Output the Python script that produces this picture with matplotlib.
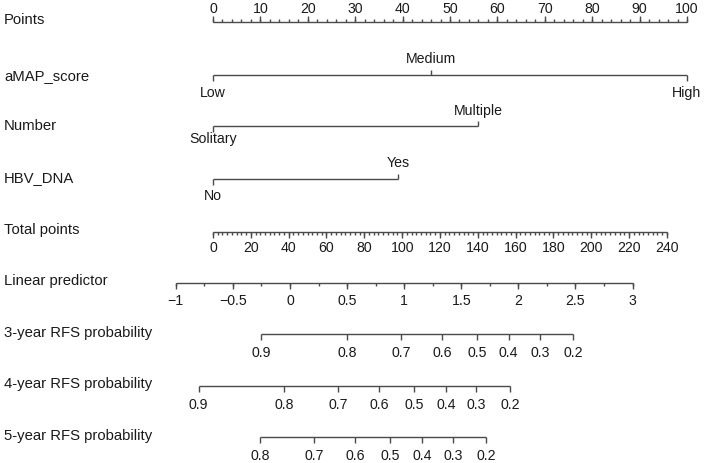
import numpy as np
import matplotlib
matplotlib.use("Agg")
import matplotlib.pyplot as plt

plt.rcParams['font.family'] = ['Liberation Sans', 'DejaVu Sans']

# ---------------- data ----------------
row_labels = ["Points", "aMAP_score", "Number", "HBV_DNA", "Total points",
              "Linear predictor", "3-year RFS probability",
              "4-year RFS probability", "5-year RFS probability"]

points_ticks = [0, 10, 20, 30, 40, 50, 60, 70, 80, 90, 100]
points_minor_step = 2

amap_levels = ["Low", "Medium", "High"]
amap_points = [0, 46, 100]
number_levels = ["Solitary", "Multiple"]
number_points = [0, 56]
hbv_levels = ["No", "Yes"]
hbv_points = [0, 39]

total_ticks = [0, 20, 40, 60, 80, 100, 120, 140, 160, 180, 200, 220, 240]
total_minor_step = 2.5

lp_ticks = [-1, -0.5, 0, 0.5, 1, 1.5, 2, 2.5, 3]
lp_tick_labels = ["\u22121", "\u22120.5", "0", "0.5", "1", "1.5", "2", "2.5", "3"]
lp_minor_step = 0.25

# model relation between total points and linear predictor
lp_at_total_zero = -0.674
lp_per_total_point = 0.01656
total_axis_scale = 0.399   # points-axis units per total point

prob_labels = ["0.9", "0.8", "0.7", "0.6", "0.5", "0.4", "0.3", "0.2"]
rfs3_lp = [-0.253, 0.503, 0.971, 1.333, 1.637, 1.914, 2.189, 2.481]
rfs4_lp = [-0.799, -0.051, 0.422, 0.778, 1.085, 1.365, 1.633, 1.926]
rfs5_labels = ["0.8", "0.7", "0.6", "0.5", "0.4", "0.3", "0.2"]
rfs5_lp = [-0.262, 0.209, 0.568, 0.877, 1.158, 1.427, 1.718]

# ---------------- layout / style ----------------
W, H = 720, 464
PX0, PXSCALE = 213.0, 4.74   # pixel of Points 0, pixels per point
LINE_C = '#4a4a4a'
TEXT_C = '#1a1a1a'
FS = 10.2
FS_LAB = 10.7
LW = 1.0

def px(p):
    return (p - PX0) / PXSCALE

def x_total(t):
    return np.asarray(t, dtype=float) * total_axis_scale

def x_lp(l):
    return (np.asarray(l, dtype=float) - lp_at_total_zero) / lp_per_total_point * total_axis_scale

fig = plt.figure(figsize=(W / 100, H / 100), dpi=100)
ax = fig.add_axes([0, 0, 1, 1])
ax.set_xlim(px(0), px(W))
ax.set_ylim(H, 0)
ax.axis('off')

row_y = [20, 76, 126, 178, 230, 281, 333, 384, 436]
for lab, y in zip(row_labels, row_y):
    ax.text(px(4), y, lab, ha='left', va='center', fontsize=FS_LAB, color=TEXT_C)

def hline(x0, x1, y):
    ax.plot([x0, x1], [y, y], color=LINE_C, lw=LW, solid_capstyle='butt')

def ticks(xs, y, length):
    ax.vlines(xs, y, y + length, color=LINE_C, lw=LW)

# Points axis (ticks up, labels above)
y = 23
hline(points_ticks[0], points_ticks[-1], y)
minor = np.arange(points_ticks[0], points_ticks[-1] + 0.001, points_minor_step)
ticks(minor, y, -3)
ticks(points_ticks, y, -6)
for t in points_ticks:
    ax.text(t, 9, str(t), ha='center', va='center', fontsize=FS, color=TEXT_C)

# categorical variables
def cat_axis(levels, pts, y, label_up, up_y, down_y):
    hline(min(pts), max(pts), y)
    for lev, p, up in zip(levels, pts, label_up):
        if up:
            ticks([p], y, -5.5)
            ax.text(p, up_y, lev, ha='center', va='center', fontsize=FS, color=TEXT_C)
        else:
            ticks([p], y, 5.5)
            ax.text(p, down_y, lev, ha='center', va='center', fontsize=FS, color=TEXT_C)

cat_axis(amap_levels, amap_points, 76, [False, True, False], 59, 93)
cat_axis(number_levels, number_points, 127, [False, True], 110.5, 139.5)
cat_axis(hbv_levels, hbv_points, 180, [False, True], 163, 196)

# Total points (ticks down, labels below)
y = 233
hline(x_total(total_ticks[0]), x_total(total_ticks[-1]), y)
tminor = np.arange(total_ticks[0], total_ticks[-1] + 0.001, total_minor_step)
ticks(x_total(tminor), y, 3)
ticks(x_total(total_ticks), y, 5.5)
for t in total_ticks:
    ax.text(x_total(t), 248, str(t), ha='center', va='center', fontsize=FS, color=TEXT_C)

# Linear predictor
y = 283.5
hline(x_lp(lp_ticks[0]), x_lp(lp_ticks[-1]), y)
lminor = np.arange(lp_ticks[0], lp_ticks[-1] + 0.001, lp_minor_step)
ticks(x_lp(lminor), y, 3)
ticks(x_lp(lp_ticks), y, 6)
for t, lab in zip(lp_ticks, lp_tick_labels):
    ax.text(x_lp(t), 301, lab, ha='center', va='center', fontsize=FS, color=TEXT_C)

# probability axes
def prob_axis(lps, labels, y, ly):
    xs = x_lp(lps)
    hline(xs.min(), xs.max(), y)
    ticks(xs, y, 6)
    for xx, lab in zip(xs, labels):
        ax.text(xx, ly, lab, ha='center', va='center', fontsize=FS, color=TEXT_C)

prob_axis(rfs3_lp, prob_labels, 335, 353)
prob_axis(rfs4_lp, prob_labels, 386.5, 405.5)
prob_axis(rfs5_lp, rfs5_labels, 438, 456.5)

fig.savefig("out.png", dpi=100)
